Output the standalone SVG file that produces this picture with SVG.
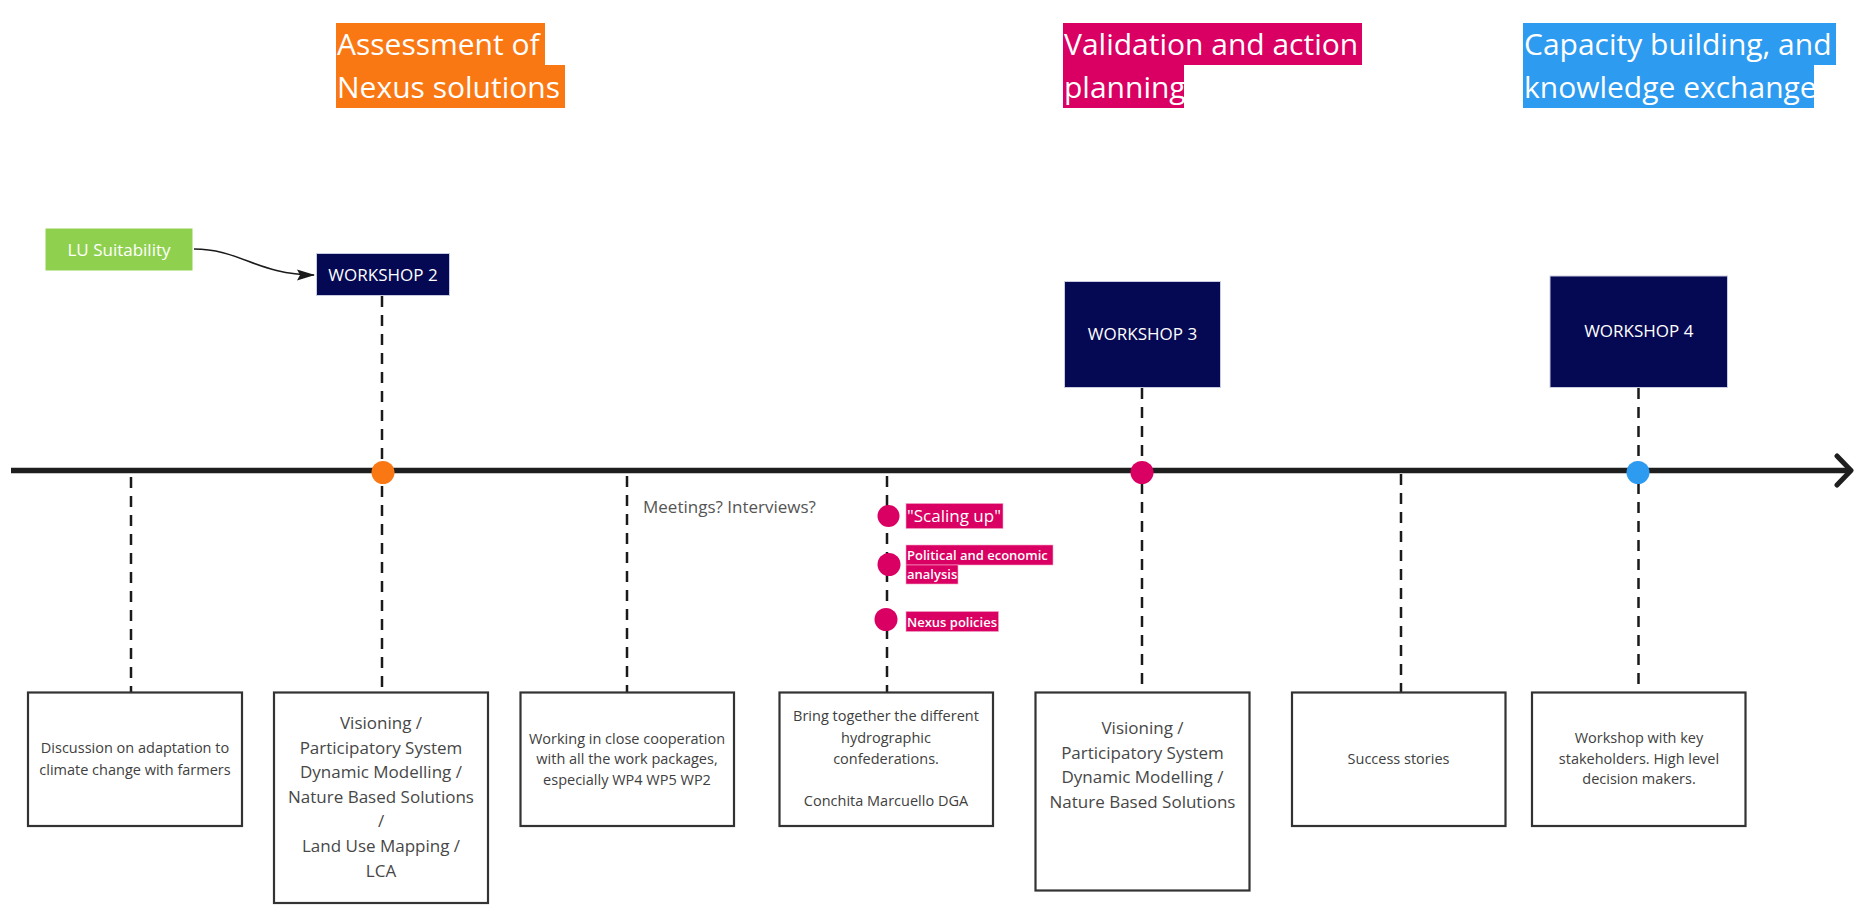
<svg xmlns="http://www.w3.org/2000/svg" width="1854" height="905" viewBox="0 0 1854 905">
  <defs>
    <marker id="arrowFill" markerWidth="18" markerHeight="12" refX="17" refY="6" orient="auto" markerUnits="userSpaceOnUse">
      <path d="M0,0.5 L18,6 L0,11.5 L3,6 Z" fill="#1a1a1a"/>
    </marker>
    <style>
      text { font-family: "Open Sans", "Noto Sans", "Liberation Sans", sans-serif; }
      .title { font-size: 30px; fill: #ffffff; }
      .ws-box { fill: #050852; stroke: #c9cbe0; stroke-width: 1; }
      .ws-text { font-size: 17px; fill: #ffffff; text-anchor: middle; }
      .note { fill: #ffffff; stroke: #333333; stroke-width: 2.2; }
      .note-lg { font-size: 17px; fill: #474747; text-anchor: middle; }
      .note-sm { font-size: 14.5px; fill: #404040; text-anchor: middle; }
      .stem { stroke: #1a1a1a; stroke-width: 2.5; stroke-dasharray: 11 8; fill: none; }
      .tag { fill: #da0063; stroke: #f3a6c8; stroke-width: 0.6; }
      .tag-text { font-size: 13px; font-weight: 600; fill: #ffffff; }
    </style>
  </defs>

  <rect width="1854" height="905" fill="#ffffff"/>

  <!-- Phase titles -->
  <g id="title-assessment">
    <rect x="336" y="23" width="209" height="42" fill="#fa7814"/>
    <rect x="336" y="65" width="229" height="43" fill="#fa7814"/>
    <text class="title" x="337" y="55">Assessment of</text>
    <text class="title" x="337" y="97.5">Nexus solutions</text>
  </g>
  <g id="title-validation">
    <rect x="1063" y="23" width="299" height="42" fill="#da0063"/>
    <rect x="1063" y="65" width="121" height="43" fill="#da0063"/>
    <text class="title" x="1064" y="55">Validation and action</text>
    <text class="title" x="1064" y="97.5">planning</text>
  </g>
  <g id="title-capacity">
    <rect x="1523" y="23" width="313" height="42" fill="#2d9bf0"/>
    <rect x="1523" y="65" width="291" height="43" fill="#2d9bf0"/>
    <text class="title" x="1524" y="55">Capacity building, and</text>
    <text class="title" x="1524" y="97.5">knowledge exchange</text>
  </g>

  <!-- Connectors: timeline, stems and arrow -->
  <g id="connectors">
    <line x1="11" y1="470.5" x2="1848" y2="470.5" stroke="#1e1e1e" stroke-width="5.5"/>
    <polyline points="1837,456 1851,470.5 1837,485" fill="none" stroke="#1e1e1e" stroke-width="5" stroke-linecap="round" stroke-linejoin="round"/>

    <line class="stem" x1="131" y1="477" x2="131" y2="698"/>
    <line class="stem" x1="382" y1="296" x2="382" y2="692"/>
    <line class="stem" x1="627" y1="476" x2="627" y2="692"/>
    <line class="stem" x1="887" y1="476" x2="887" y2="692"/>
    <line class="stem" x1="1142" y1="388" x2="1142" y2="692"/>
    <line class="stem" x1="1401" y1="474" x2="1401" y2="692"/>
    <line class="stem" x1="1638.5" y1="388" x2="1638.5" y2="692"/>

    <path d="M194,249 C240,249 258,275 314,275" fill="none" stroke="#1a1a1a" stroke-width="1.5" marker-end="url(#arrowFill)"/>
  </g>

  <!-- Timeline milestones -->
  <g id="milestone-2"><circle cx="383" cy="472.5" r="11.5" fill="#fa7814"/></g>
  <g id="milestone-3"><circle cx="1142" cy="472.5" r="11.5" fill="#da0063"/></g>
  <g id="milestone-4"><circle cx="1638" cy="472.5" r="11.5" fill="#2d9bf0"/></g>

  <!-- Source input -->
  <g id="lu-suitability">
    <rect x="45.5" y="228.5" width="147" height="42" fill="#8fd14f"/>
    <text x="119" y="256" font-size="17" fill="#ffffff" text-anchor="middle">LU Suitability</text>
  </g>

  <!-- Workshops -->
  <g id="workshop-2">
    <rect class="ws-box" x="316.5" y="253.5" width="133" height="42"/>
    <text class="ws-text" x="383" y="280.5">WORKSHOP 2</text>
  </g>
  <g id="workshop-3">
    <rect class="ws-box" x="1064.5" y="281.5" width="156" height="106"/>
    <text class="ws-text" x="1142.5" y="339.5">WORKSHOP 3</text>
  </g>
  <g id="workshop-4">
    <rect class="ws-box" x="1550" y="276" width="177.5" height="111.5"/>
    <text class="ws-text" x="1638.8" y="337">WORKSHOP 4</text>
  </g>

  <!-- Free label -->
  <g id="meetings-label">
    <text x="643" y="512.5" font-size="17" fill="#555555">Meetings? Interviews?</text>
  </g>

  <!-- Scaling-up topics -->
  <g id="topic-scaling">
    <circle cx="888.5" cy="516" r="11" fill="#da0063"/>
    <rect class="tag" x="906" y="503.5" width="97" height="25"/>
    <text x="907" y="522" font-size="17" fill="#ffffff">"Scaling up"</text>
  </g>
  <g id="topic-political">
    <circle cx="889" cy="564.5" r="11.5" fill="#da0063"/>
    <rect class="tag" x="906" y="545" width="147" height="20"/>
    <rect class="tag" x="906" y="565" width="52" height="19"/>
    <text class="tag-text" x="907" y="560">Political and economic</text>
    <text class="tag-text" x="907" y="579">analysis</text>
  </g>
  <g id="topic-policies">
    <circle cx="886" cy="619.5" r="11.5" fill="#da0063"/>
    <rect class="tag" x="906" y="611.5" width="92.5" height="20"/>
    <text class="tag-text" x="907" y="626.5">Nexus policies</text>
  </g>

  <!-- Activity notes -->
  <g id="note-farmers">
    <rect class="note" x="28" y="692.5" width="214" height="133.5"/>
    <text class="note-sm" x="135" y="752.5">Discussion on adaptation to</text>
    <text class="note-sm" x="135" y="774.5">climate change with farmers</text>
  </g>
  <g id="note-workshop2">
    <rect class="note" x="274" y="692.5" width="214" height="210.5"/>
    <text class="note-lg" x="381" y="729">Visioning /</text>
    <text class="note-lg" x="381" y="753.6">Participatory System</text>
    <text class="note-lg" x="381" y="778.2">Dynamic Modelling /</text>
    <text class="note-lg" x="381" y="802.8">Nature Based Solutions</text>
    <text class="note-lg" x="381" y="827.4">/</text>
    <text class="note-lg" x="381" y="852">Land Use Mapping /</text>
    <text class="note-lg" x="381" y="876.6">LCA</text>
  </g>
  <g id="note-cooperation">
    <rect class="note" x="520.5" y="692.5" width="213.5" height="133.5"/>
    <text class="note-sm" x="627" y="743.5">Working in close cooperation</text>
    <text class="note-sm" x="627" y="764.3">with all the work packages,</text>
    <text class="note-sm" x="627" y="785">especially WP4 WP5 WP2</text>
  </g>
  <g id="note-confederations">
    <rect class="note" x="779.5" y="692.5" width="213.5" height="133.5"/>
    <text class="note-sm" x="886" y="721">Bring together the different</text>
    <text class="note-sm" x="886" y="742.5">hydrographic</text>
    <text class="note-sm" x="886" y="764">confederations.</text>
    <text class="note-sm" x="886" y="806">Conchita Marcuello DGA</text>
  </g>
  <g id="note-workshop3">
    <rect class="note" x="1035.5" y="692.5" width="214" height="198"/>
    <text class="note-lg" x="1142.5" y="734">Visioning /</text>
    <text class="note-lg" x="1142.5" y="758.6">Participatory System</text>
    <text class="note-lg" x="1142.5" y="783.2">Dynamic Modelling /</text>
    <text class="note-lg" x="1142.5" y="807.8">Nature Based Solutions</text>
  </g>
  <g id="note-success">
    <rect class="note" x="1292" y="692.5" width="213.5" height="133.5"/>
    <text class="note-sm" x="1398.5" y="763.5">Success stories</text>
  </g>
  <g id="note-workshop4">
    <rect class="note" x="1532" y="692.5" width="213.5" height="133.5"/>
    <text class="note-sm" x="1639" y="743">Workshop with key</text>
    <text class="note-sm" x="1639" y="763.7">stakeholders. High level</text>
    <text class="note-sm" x="1639" y="784.4">decision makers.</text>
  </g>
</svg>
